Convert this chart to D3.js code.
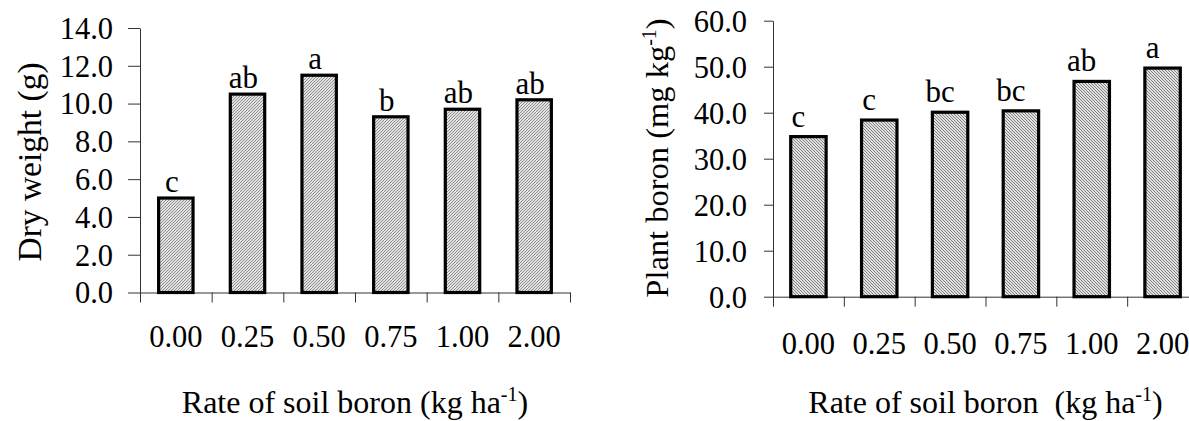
<!DOCTYPE html>
<html>
<head>
<meta charset="utf-8">
<script src="https://cdn.jsdelivr.net/npm/d3@7"></script>
<style>
  html, body { margin: 0; padding: 0; background: #fff; }
  svg text { font-family: "Liberation Serif", "Times New Roman", serif; fill: #000; }
</style>
</head>
<body>
<svg id="chart" width="1189" height="421"></svg>
<script>
// ---- data ----
const categories = ["0.00", "0.25", "0.50", "0.75", "1.00", "2.00"];
const dryWeight = [5.0, 10.5, 11.5, 9.3, 9.7, 10.2];
const dryWeightLetters = ["c", "ab", "a", "b", "ab", "ab"];
const plantBoron = [34.8, 38.4, 40.1, 40.4, 46.8, 49.7];
const plantBoronLetters = ["c", "c", "bc", "bc", "ab", "a"];
const dryWeightTicks = [0, 2, 4, 6, 8, 10, 12, 14];
const plantBoronTicks = [0, 10, 20, 30, 40, 50, 60];

const svg = d3.select("#chart");
const defs = svg.append("defs");

function makePattern(id, dir, bg, fg) {
  const p = defs.append("pattern").attr("id", id)
    .attr("patternUnits", "userSpaceOnUse").attr("width", 3).attr("height", 3);
  p.append("rect").attr("width", 3).attr("height", 3).attr("fill", bg);
  if (dir > 0) {
    p.append("path").attr("d", "M-1,1 l2,-2 M0,3 l3,-3 M2,4 l2,-2")
      .attr("stroke", fg).attr("stroke-width", 0.8);
  } else {
    p.append("path").attr("d", "M-1,2 l2,2 M0,0 l3,3 M2,-1 l2,2")
      .attr("stroke", fg).attr("stroke-width", 0.8);
  }
}
makePattern("hatchL", 1, "#e2e2e2", "#7a7a7a");
makePattern("hatchR", -1, "#e0e0e0", "#6a6a6a");

function drawPanel(cfg) {
  const g = svg.append("g");
  const x = d3.scaleBand().domain(categories).range([cfg.x0, cfg.x1])
    .paddingInner(cfg.pad).paddingOuter(cfg.pad / 2);
  const xb = d3.scaleLinear().domain([0, categories.length]).range([cfg.x0, cfg.x1]);
  const y = d3.scaleLinear().domain([0, cfg.ymax]).range([cfg.y0, cfg.y1]);

  // y axis
  const ya = g.append("g").attr("transform", `translate(${cfg.x0},0)`)
    .call(d3.axisLeft(y).tickValues(cfg.ticks).tickFormat(d3.format(".1f"))
      .tickSize(cfg.ytick).tickSizeOuter(0).tickPadding(cfg.ypad));
  ya.selectAll("path, line").attr("stroke", "#333").attr("stroke-width", 1);
  ya.selectAll("text").attr("font-size", cfg.tickFont).attr("font-family", "Liberation Serif")
    .attr("dy", "0.34em");

  // x axis boundary ticks
  const xa = g.append("g").attr("transform", `translate(0,${cfg.y0})`)
    .call(d3.axisBottom(xb).tickValues(d3.range(0, categories.length + 1))
      .tickFormat("").tickSize(cfg.xtick).tickSizeOuter(0));
  xa.selectAll("path, line").attr("stroke", "#333").attr("stroke-width", 1);

  // x category labels
  const xl = g.append("g").attr("transform", `translate(0,${cfg.y0})`)
    .call(d3.axisBottom(x).tickSize(0).tickPadding(cfg.xlabPad));
  xl.select(".domain").remove();
  xl.selectAll("text").attr("font-size", cfg.tickFont).attr("font-family", "Liberation Serif")
    .attr("dy", "0");

  // bars
  g.selectAll("rect.bar").data(cfg.values).enter().append("rect")
    .attr("class", "bar")
    .attr("x", (d, i) => x(categories[i]))
    .attr("width", x.bandwidth())
    .attr("y", d => y(d))
    .attr("height", d => y(0) - y(d))
    .attr("fill", `url(#${cfg.pattern})`)
    .attr("stroke", "#000").attr("stroke-width", 3.2);

  // letters
  g.selectAll("text.letter").data(cfg.values).enter().append("text")
    .attr("class", "letter")
    .attr("x", (d, i) => x(categories[i]) + x.bandwidth() / 2 + cfg.letterDx)
    .attr("y", d => y(d) - cfg.letterDy)
    .attr("text-anchor", "middle")
    .attr("font-size", cfg.letterFont)
    .text((d, i) => cfg.letters[i]);

  // y title
  const yt = g.append("text")
    .attr("transform", `translate(${cfg.ytx},${cfg.yty}) rotate(-90)`)
    .attr("text-anchor", "middle").attr("font-size", cfg.ytitleFont);
  cfg.ytitle(yt);

  // x title
  const xt = g.append("text")
    .attr("x", (cfg.x0 + cfg.x1) / 2).attr("y", cfg.xty)
    .attr("text-anchor", "middle").attr("font-size", cfg.titleFont);
  cfg.xtitle(xt);
}

function supTitle(pre, post) {
  return function (t) {
    t.append("tspan").text(pre);
    t.append("tspan").attr("font-size", 20).attr("dy", -12).text("-1");
    t.append("tspan").attr("dy", 12).text(post);
  };
}

drawPanel({
  x0: 140, x1: 570, y0: 292.5, y1: 28, ymax: 14, pad: 0.52,
  ticks: dryWeightTicks, values: dryWeight, letters: dryWeightLetters,
  pattern: "hatchL", ytick: 12, ypad: 15, xtick: 10, xlabPad: 54,
  tickFont: 30.5, letterFont: 31, titleFont: 32, ytitleFont: 33.5, letterDx: -4, letterDy: 6,
  ytx: 41, yty: 162, xty: 413,
  ytitle: t => t.text("Dry weight (g)"),
  xtitle: supTitle("Rate of soil boron (kg ha", ")")
});

drawPanel({
  x0: 773, x1: 1198, y0: 296.7, y1: 20.7, ymax: 60, pad: 0.5,
  ticks: plantBoronTicks, values: plantBoron, letters: plantBoronLetters,
  pattern: "hatchR", ytick: 9, ypad: 17, xtick: 10, xlabPad: 57,
  tickFont: 30.5, letterFont: 31, titleFont: 32, ytitleFont: 32.5, letterDx: -10, letterDy: 10,
  ytx: 668, yty: 158, xty: 413,
  ytitle: supTitle("Plant boron (mg kg", ")"),
  xtitle: supTitle("Rate of soil boron\u00a0 (kg ha", ")")
});
</script>
</body>
</html>
